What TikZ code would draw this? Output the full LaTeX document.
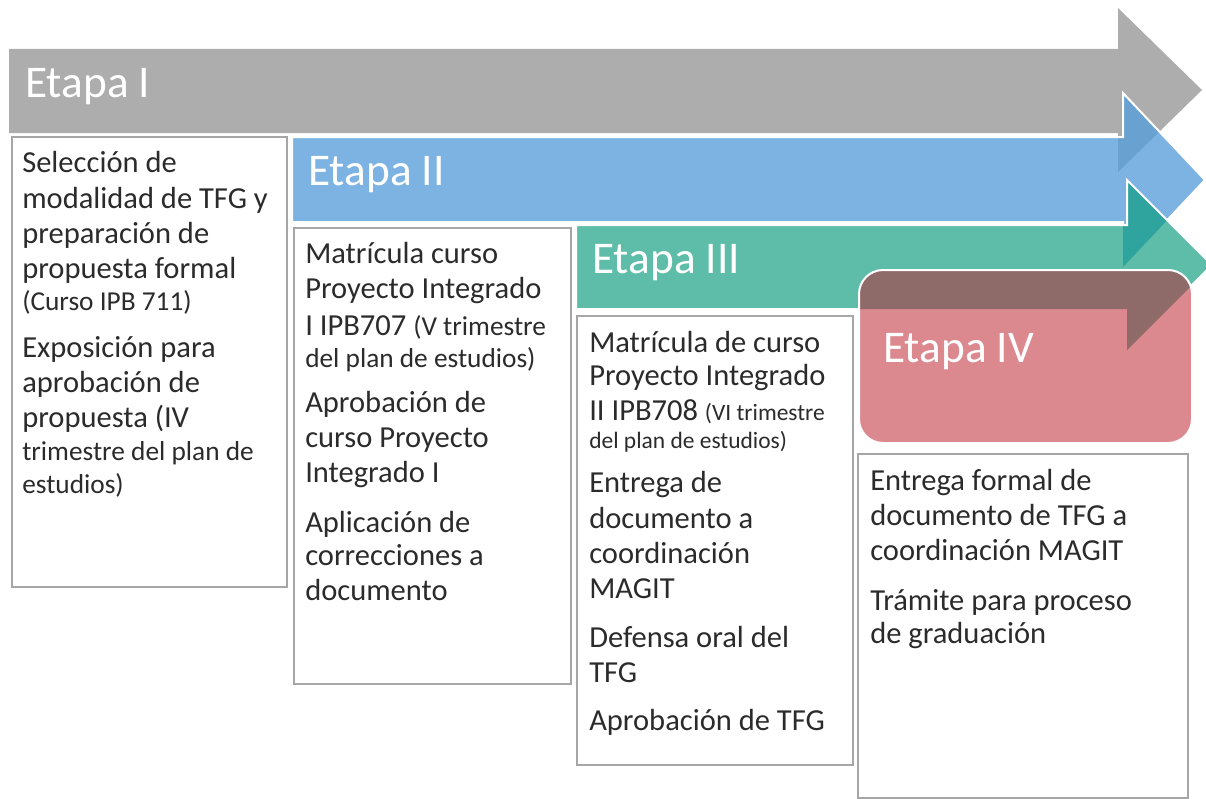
\documentclass[tikz,border=0pt]{standalone}
\usepackage{fontspec}
\setmainfont{Carlito}
\definecolor{grayc}{HTML}{ADADAD}
\definecolor{bluec}{HTML}{7DB3E2}
\definecolor{blued}{HTML}{69A1D0}
\definecolor{tealc}{HTML}{5EBDA8}
\definecolor{teald}{HTML}{2FA39D}
\definecolor{pinkc}{HTML}{DC888F}
\definecolor{mauvec}{HTML}{8E6B69}
\definecolor{boxc}{HTML}{A6A6A6}
\definecolor{txtc}{HTML}{2B2B2B}
\newcommand\txtline[5][]{\node[txt,#1] (#2) at (#3,#4) {#5};}
\begin{document}
\begin{tikzpicture}[x=0.75pt,y=-0.75pt,
  txt/.style={anchor=base west, inner sep=0pt, text=txtc, font=\fontsize{22.9pt}{26pt}\selectfont},
  sm/.style={font=\fontsize{20.5pt}{24pt}\selectfont},
  xs/.style={font=\fontsize{17.6pt}{21pt}\selectfont},
  etapa/.style={anchor=base west, inner sep=0pt, text=white, font=\fontsize{34pt}{40pt}\selectfont},
  tbox/.style={draw=boxc, line width=1.5pt, fill=white},
  wline/.style={draw=white, line width=1.5pt, line join=miter}]
\useasboundingbox (0,0) rectangle (1206,799);
% Etapa I arrow
\fill[grayc] (9,49) -- (1118,49) -- (1118,8) -- (1202,90) -- (1118,172) -- (1118,133) -- (9,133) -- cycle;
% Etapa II arrow
\fill[bluec] (292,137) -- (1123,137) -- (1123,93) -- (1205,180) -- (1123,267) -- (1123,222) -- (292,222) -- cycle;
\begin{scope}
\clip (9,49) -- (1118,49) -- (1118,8) -- (1202,90) -- (1118,172) -- (1118,133) -- (9,133) -- cycle;
\fill[blued] (292,137) -- (1123,137) -- (1123,93) -- (1205,180) -- (1123,267) -- (1123,222) -- (292,222) -- cycle;
\end{scope}
\draw[wline] (292,137) -- (1123,137) -- (1123,93) -- (1205,180) -- (1123,267) -- (1123,222) -- (292,222) -- cycle;
% Etapa III arrow
\fill[tealc] (576,225) -- (1127,225) -- (1127,180) -- (1212,265) -- (1127,350) -- (1127,309) -- (576,309) -- cycle;
\begin{scope}
\clip (292,137) -- (1123,137) -- (1123,93) -- (1205,180) -- (1123,267) -- (1123,222) -- (292,222) -- cycle;
\fill[teald] (576,225) -- (1127,225) -- (1127,180) -- (1212,265) -- (1127,350) -- (1127,309) -- (576,309) -- cycle;
\end{scope}
\draw[wline] (576,225) -- (1127,225) -- (1127,180) -- (1212,265) -- (1127,350) -- (1127,309) -- (576,309) -- cycle;
% Etapa IV rounded box
\fill[pinkc, rounded corners=18pt] (859,270) rectangle (1192,443);
\begin{scope}
\clip[rounded corners=18pt] (859,270) rectangle (1192,443);
\fill[mauvec] (576,225) -- (1127,225) -- (1127,180) -- (1212,265) -- (1127,350) -- (1127,309) -- (576,309) -- cycle;
\end{scope}
\draw[wline, rounded corners=18pt] (859,270) rectangle (1192,443);
% stage labels
\node[etapa] (e1) at (25,98) {Etapa I};
\node[etapa] (e2) at (308,185) {Etapa II};
\node[etapa] (e3) at (592,273) {Etapa III};
\node[etapa] (e4) at (883,362) {Etapa IV};
% text boxes
\draw[tbox] (12,137) rectangle (287,587);
\draw[tbox] (294,228) rectangle (571,684);
\draw[tbox] (577,316) rectangle (853,765);
\draw[tbox] (858,454) rectangle (1188,798);
% box 1
\txtline{a1}{22}{172}{Selección de}
\txtline{a2}{22}{208}{modalidad de TFG y}
\txtline{a3}{22}{243}{preparación de}
\txtline{a4}{22}{278}{propuesta formal}
\txtline[sm]{a5}{22}{310}{(Curso IPB 711)}
\txtline{a6}{22}{357}{Exposición para}
\txtline{a7}{22}{392}{aprobación de}
\txtline{a8}{22}{427}{propuesta (IV}
\txtline[sm]{a9}{22}{460}{trimestre del plan de}
\txtline[sm]{a10}{22}{493}{estudios)}
% box 2
\txtline{b1}{305}{263}{Matrícula curso}
\txtline{b2}{305}{298}{Proyecto Integrado}
\txtline{b3}{305}{335}{I IPB707 {\fontsize{20.5pt}{24pt}\selectfont(V trimestre}}
\txtline[sm]{b4}{305}{367}{del plan de estudios)}
\txtline{b5}{305}{412}{Aprobación de}
\txtline{b6}{305}{447}{curso Proyecto}
\txtline{b7}{305}{482}{Integrado I}
\txtline{b8}{305}{532}{Aplicación de}
\txtline{b9}{305}{565}{correcciones a}
\txtline{b10}{305}{600}{documento}
% box 3
\txtline{c1}{589}{352}{Matrícula de curso}
\txtline{c2}{589}{385}{Proyecto Integrado}
\txtline{c3}{589}{420}{II IPB708 {\fontsize{17.6pt}{21pt}\selectfont(VI trimestre}}
\txtline[xs]{c4}{589}{448}{del plan de estudios)}
\txtline{c5}{589}{492}{Entrega de}
\txtline{c6}{589}{528}{documento a}
\txtline{c7}{589}{563}{coordinación}
\txtline{c8}{589}{598}{MAGIT}
\txtline{c9}{589}{647}{Defensa oral del}
\txtline{c10}{589}{682}{TFG}
\txtline{c11}{589}{730}{Aprobación de TFG}
% box 4
\txtline{d1}{870}{490}{Entrega formal de}
\txtline{d2}{870}{525}{documento de TFG a}
\txtline{d3}{870}{560}{coordinación MAGIT}
\txtline{d4}{870}{610}{Trámite para proceso}
\txtline{d5}{870}{643}{de graduación}
\end{tikzpicture}
\end{document}
